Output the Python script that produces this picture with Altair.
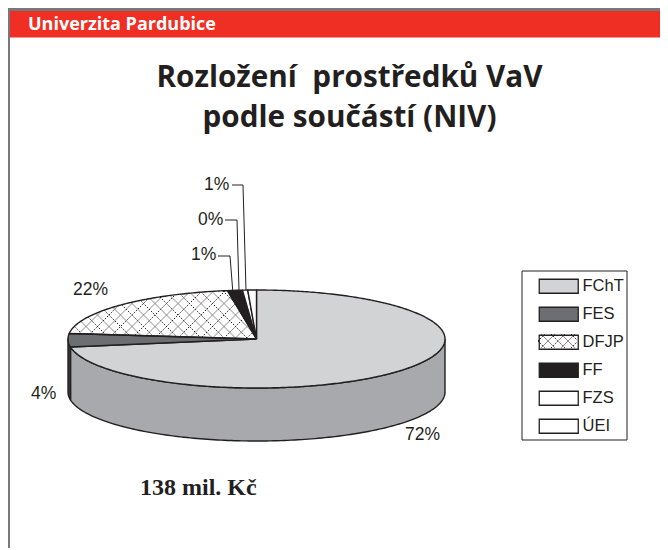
import numpy as np
import pandas as pd
import altair as alt

# ---- data ----
SLICES = ["FChT", "FES", "DFJP", "FF", "FZS", "ÚEI"]
SHARES = [72.4, 4.4, 20.74, 1.27, 0.45, 0.74]
SHARE_LABELS = ["72%", "4%", "22%", "1%", "0%", "1%"]
TITLE_LINES = ["Rozložení\u00a0 prostředků VaV", "podle součástí (NIV)"]
HEADER = "Univerzita Pardubice"
TOTAL = "138 mil. Kč"

# ---- styles and layout (picture pixels) ----
# DFJP is see-through so that its hatching, drawn under the legend, shows in the swatch too
FILLS = ["#D1D3D4", "#6D6E71", "rgba(255,255,255,0)", "#231F20", "#FFFFFF", "#FFFFFF"]
SIDE_FILLS = {"FChT": "#A7A9AC", "FES": "#3A3A3C"}
INK = "#231F20"
CX, CY, RX, RY, DEPTH = 256.5, 339.0, 188.5, 49.0, 53.0
LABEL_POS = [(405, 435), (31, 394), (73, 290), (191, 255), (198, 220), (204, 185)]
LEADERS = [
    [(218, 256), (230, 256), (232.7, 290)],
    [(225, 220), (237, 220), (239, 290)],
    [(232, 185), (243, 185), (246, 290)],
]
SW_L, SW_R, SW_H = 538, 577, 14
LEG_Y0, LEG_DY = 285, 28

xs = alt.Scale(domain=[8, 660], range=[0, 652], nice=False, zero=False)
ys = alt.Scale(domain=[8, 548], range=[0, 540], nice=False, zero=False)
X = alt.X("x:Q", scale=xs, axis=None)
Y = alt.Y("y:Q", scale=ys, axis=None)
X2 = alt.X2("x2:Q")
Y2 = alt.Y2("y2:Q")


def ex(a):
    return CX + RX * np.sin(np.radians(a))


def ey(a):
    return CY - RY * np.cos(np.radians(a))


edges = np.concatenate([[0], np.cumsum(SHARES)]) * 3.6

top_rows = []
for i, name in enumerate(SLICES):
    a0, a1 = edges[i], edges[i + 1]
    arc = np.linspace(a0, a1, max(4, int((a1 - a0) * 1.5)))
    pts = [(CX, CY)] + [(ex(a), ey(a)) for a in arc] + [(CX, CY)]
    for k, (x, y) in enumerate(pts):
        top_rows.append({"slice": name, "k": k, "x": x, "y": y})
top_df = pd.DataFrame(top_rows)


def side_df(name):
    i = SLICES.index(name)
    a0, a1 = max(edges[i], 90), min(edges[i + 1], 270)
    arc = np.linspace(a0, a1, 160)
    pts = [(ex(a), ey(a)) for a in arc] + [(ex(a), ey(a) + DEPTH) for a in arc[::-1]]
    pts.append(pts[0])
    return pd.DataFrame([{"k": k, "x": p[0], "y": p[1]} for k, p in enumerate(pts)])


def in_dfjp(x, y):
    u, v = (x - CX) / RX, (CY - y) / RY
    ang = np.degrees(np.arctan2(u, v)) % 360
    return u * u + v * v <= 1 and edges[2] <= ang <= edges[3]


def in_swatch(x, y):
    yc = LEG_Y0 + 2 * LEG_DY
    return SW_L <= x <= SW_R and abs(y - yc) <= SW_H / 2


def hatch(inside, x0, x1, y_mid, step):
    rows = []
    n = 0
    for sign in (1, -1):
        for c in np.arange(x0 - 120, x1 + 120, step):
            ts = np.arange(-120, 120, 0.25)
            good = [t for t in ts if inside(c + t, y_mid + sign * t)]
            if len(good) > 1:
                rows.append({
                    "x": c + good[0], "y": y_mid + sign * good[0],
                    "x2": c + good[-1], "y2": y_mid + sign * good[-1],
                    "dark": n % 2 == 0,
                })
            n += 1
    return pd.DataFrame(rows)


hatch_df = pd.concat([
    hatch(in_dfjp, 68, 257, 315, 11.5),
    hatch(in_swatch, SW_L, SW_R, LEG_Y0 + 2 * LEG_DY, 10.0),
])

layers = []


def rect(x, x2, y, y2, **mark):
    return alt.Chart(pd.DataFrame([{"x": x, "x2": x2, "y": y, "y2": y2}])).mark_rect(**mark).encode(
        x=X, x2=X2, y=Y, y2=Y2)


def text(rows, **mark):
    return alt.Chart(pd.DataFrame(rows)).mark_text(baseline="middle", **mark).encode(
        x=X, y=Y, text="t:N")


# page frame and header band
layers.append(rect(8, 660, 8, 11, color="#77787B"))
layers.append(rect(8, 10, 8, 548, color="#77787B"))
layers.append(rect(10, 660, 11, 37.5, color="#EF2E24"))
layers.append(text([{"x": 28, "y": 24.5, "t": HEADER}], align="left", font="Open Sans", fontWeight="bold",
                   fontSize=18, color="#FFFFFF"))

# title and total
layers.append(text([{"x": 349.5, "y": 78, "t": TITLE_LINES[0]},
                    {"x": 349.5, "y": 118, "t": TITLE_LINES[1]}],
                   align="center", font="Open Sans", fontWeight="bold", fontSize=29.7, color=INK))
layers.append(text([{"x": 140, "y": 488, "t": TOTAL}], align="left", font="Liberation Serif",
                   fontWeight="bold", fontSize=24, color=INK))

# pie wall
for name in ["FChT", "FES"]:
    layers.append(alt.Chart(side_df(name)).mark_line(
        fill=SIDE_FILLS[name], stroke=INK, strokeWidth=1.4, strokeJoin="round").encode(
        x=X, y=Y, order="k:Q"))

# cross-hatching of DFJP, on the pie and on its legend swatch
hatch_base = alt.Chart(hatch_df)
layers.append(hatch_base.transform_filter("!datum.dark").mark_rule(color="#8A8C8E", strokeWidth=1).encode(
    x=X, x2=X2, y=Y, y2=Y2))
layers.append(hatch_base.transform_filter("datum.dark").mark_rule(color=INK, strokeWidth=1, strokeDash=[1.5, 1.5]).encode(
    x=X, x2=X2, y=Y, y2=Y2))

# pie top (carries the legend)
layers.append(alt.Chart(top_df).mark_line(stroke=INK, strokeWidth=1.4, strokeJoin="round").encode(
    x=X, y=Y, order="k:Q",
    fill=alt.Fill("slice:N", scale=alt.Scale(domain=SLICES, range=FILLS), legend=alt.Legend(
        title=None, orient="none", legendX=542.5, legendY=LEG_Y0 - 8 - 7,
        symbolType="M-2.786,-1H2.786V1H-2.786Z", symbolSize=196,
        symbolStrokeColor=INK, symbolStrokeWidth=1.3, symbolOpacity=1,
        labelFont="Liberation Sans", labelFontSize=16.5, labelColor=INK, labelOffset=15.5,
        rowPadding=8, labelLimit=100))))

# legend box
layers.append(rect(522, 627, 271, 440, fillOpacity=0, stroke=INK, strokeWidth=1))

# leaders
leader_rows = [{"id": i, "k": k, "x": p[0], "y": p[1]} for i, line in enumerate(LEADERS) for k, p in enumerate(line)]
layers.append(alt.Chart(pd.DataFrame(leader_rows)).mark_line(color=INK, strokeWidth=1).encode(
    x=X, y=Y, order="k:Q", detail="id:N"))

# percentage labels
layers.append(text([{"x": p[0], "y": p[1], "t": t} for p, t in zip(LABEL_POS, SHARE_LABELS)],
                   align="left", font="Liberation Sans", fontSize=17.5, color=INK))

chart = alt.layer(*layers).properties(
    width=652, height=540, padding=0, background="#FFFFFF",
    autosize=alt.AutoSizeParams(type="none"),
).configure_view(stroke=None)

chart.save("out.html", embed_options={"renderer": "svg", "actions": False})
